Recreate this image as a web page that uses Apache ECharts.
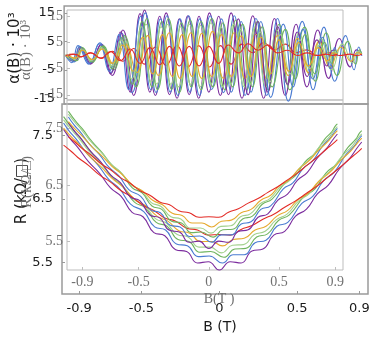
<!DOCTYPE html>
<html>
<head>
<meta charset="utf-8">
<script src="https://cdn.jsdelivr.net/npm/echarts@6/dist/echarts.min.js"></script>
<style>
  html, body { margin: 0; padding: 0; background: #fff; }
  #chart { width: 373px; height: 346px; }
</style>
</head>
<body>
<div id="chart"></div>
<script>
const bPurple = [-1.0, -0.95, -0.91, -0.84, -0.77, -0.70, -0.63, -0.56, -0.49, -0.42, -0.35, -0.28, -0.21, -0.14, -0.07,
  0.0, 0.07, 0.14, 0.21, 0.28, 0.35, 0.42, 0.49, 0.56, 0.63, 0.70, 0.77, 0.84, 0.88, 0.915];
const bBlue = [-1.0, -0.96, -0.92, -0.85, -0.78, -0.71, -0.64, -0.57, -0.485, -0.415, -0.345, -0.275, -0.205, -0.135, -0.065,
  0.02, 0.09, 0.16, 0.23, 0.30, 0.37, 0.44, 0.53, 0.60, 0.67, 0.74, 0.81, 0.865, 0.895, 0.915];
const bGreen = [-1.0, -0.94, -0.90, -0.83, -0.76, -0.69, -0.62, -0.545, -0.475, -0.405, -0.335, -0.265, -0.195, -0.125, -0.055,
  0.03, 0.10, 0.17, 0.24, 0.31, 0.38, 0.45, 0.545, 0.615, 0.685, 0.755, 0.825, 0.875, 0.90, 0.915];
const bLightGreen = [-1.0, -0.955, -0.905, -0.835, -0.765, -0.695, -0.625, -0.55, -0.48, -0.41, -0.34, -0.27, -0.20, -0.13, -0.06,
  0.015, 0.085, 0.155, 0.225, 0.295, 0.365, 0.435, 0.51, 0.58, 0.65, 0.72, 0.79, 0.855, 0.89, 0.915];
const bYellow = [-1.0, -0.95, -0.90, -0.83, -0.76, -0.69, -0.615, -0.54, -0.47, -0.40, -0.33, -0.26, -0.19, -0.12, -0.05,
  0.02, 0.09, 0.16, 0.23, 0.30, 0.37, 0.44, 0.50, 0.57, 0.64, 0.71, 0.78, 0.845, 0.885, 0.915];
const bRed = bPurple;

const xTicks = [-0.9, -0.5, 0, 0.5, 0.9];
const alphaTicks = [-15, -5, 5, 15];
const rTicks = [5.5, 6.5, 7.5];

const traceColors = ["#7b2c9e", "#4a7bd2", "#6fb45f", "#a3d18e", "#e6aa2e", "#e32b26"];

// top panel: alpha(B) * 10^3
const alphaPurple = [0, -2, 3, -3, 4, -7, 9, -14, 16, -14, 15, -15, 14, -15, 15, -14, 15, -15, 14, -15, 13, -14, 11, -11, 9, -8, 6, -4, 2, 0];
const alphaBlue = [0, -2.5, 3.5, -3, 4.5, -6, 8, -13, 15, -13, 14, -14, 14, -14, 14, -13, 14, -14, 13, -14, 13, -16, 12, -12, 10, -9, 7, -5, 3, 0];
const alphaGreen = [0, -2, 3, -2.5, 3.5, -5, 7, -11, 13, -12, 13, -13, 12.5, -12, 13, -12, 12.5, -12, 12, -12, 11, -12, 10, -9, 8, -7, 5, -3, 2, 0.5];
const alphaLightGreen = [0.5, -1.5, 2.5, -2, 3, -4, 6, -9, 11, -10, 11, -11, 11, -11, 11.5, -11, 11, -11, 10, -11, 9, -10, 8, -7, 6, -5, 4, -2.5, 1.5, 0.5];
const alphaYellow = [0, -1, 2, -1.5, 2.5, -3, 4, -6, 7, -7, 8, -8, 8, -8, 8.5, -8, 8, -8, 7.5, -8, 7, -7, 6, -6, 5, -4, 3, -2, 1, 0.5];
const alphaRed = [0, 0.5, -0.5, 1, -1, 1.5, -2, 2.5, -3, 3, -3.5, 3.5, -4, 3.5, -4, 3.5, -3, 4, 1, 4.5, 2, 4, 1, 2, 0, 1, 0, 0.5, 0, 0.5];

// bottom panel: R (kOhm/sq)
const rPurple = [7.60, 7.43, 7.32, 7.09, 6.91, 6.68, 6.54, 6.29, 6.22, 5.97, 5.92, 5.70, 5.67, 5.49, 5.51, 5.38, 5.51, 5.49, 5.68, 5.71, 5.93, 5.99, 6.23, 6.34, 6.58, 6.72, 6.97, 7.15, 7.29, 7.40];
const rBlue = [7.70, 7.56, 7.45, 7.22, 7.04, 6.81, 6.66, 6.42, 6.30, 6.06, 6.01, 5.79, 5.76, 5.59, 5.60, 5.49, 5.62, 5.62, 5.81, 5.85, 6.07, 6.13, 6.43, 6.54, 6.79, 6.93, 7.19, 7.33, 7.44, 7.50];
const rGreen = [7.80, 7.60, 7.49, 7.26, 7.07, 6.85, 6.70, 6.45, 6.36, 6.13, 6.07, 5.86, 5.83, 5.66, 5.67, 5.58, 5.71, 5.72, 5.90, 5.95, 6.16, 6.25, 6.54, 6.66, 6.91, 7.06, 7.31, 7.44, 7.54, 7.58];
const rLightGreen = [7.75, 7.61, 7.47, 7.25, 7.07, 6.87, 6.72, 6.50, 6.40, 6.19, 6.12, 5.94, 5.90, 5.74, 5.74, 5.65, 5.77, 5.78, 5.94, 5.99, 6.17, 6.26, 6.47, 6.59, 6.81, 6.96, 7.18, 7.34, 7.46, 7.53];
const rYellow = [7.62, 7.48, 7.36, 7.17, 7.01, 6.83, 6.68, 6.49, 6.39, 6.23, 6.15, 6.00, 5.96, 5.83, 5.83, 5.76, 5.86, 5.88, 6.01, 6.07, 6.23, 6.32, 6.48, 6.59, 6.78, 6.92, 7.11, 7.26, 7.38, 7.46];
const rRed = [7.35, 7.25, 7.16, 7.03, 6.88, 6.77, 6.63, 6.53, 6.40, 6.32, 6.20, 6.15, 6.04, 6.01, 5.93, 5.94, 5.93, 6.02, 6.08, 6.18, 6.26, 6.37, 6.47, 6.59, 6.71, 6.85, 6.99, 7.14, 7.22, 7.30];

const fieldTraces = [bPurple, bBlue, bGreen, bLightGreen, bYellow, bRed];
const alphaTraces = [alphaPurple, alphaBlue, alphaGreen, alphaLightGreen, alphaYellow, alphaRed];
const rTraces = [rPurple, rBlue, rGreen, rLightGreen, rYellow, rRed];

const chart = echarts.init(document.getElementById("chart"));

// the picture is two copies of the same figure on top of each other:
// "a" is the larger one with sans labels, "b" the smaller one with serif labels
const looks = {
  a: { font: "DejaVu Sans", size: 13, nameSize: 15, color: "#1a1a1a", border: "#9a9a9a", borderWidth: 1.5 },
  b: { font: "Liberation Serif", size: 14, nameSize: 15, color: "#707070", border: "#bdbdbd", borderWidth: 1 }
};

const panels = [
  { look: "a", kind: "alpha", grid: { left: 62, top: 6, width: 306, height: 98 }, yName: "α(B) · 10³", yGap: 30, yPad: [0, 0, 0, 14] },
  // its y name is drawn as a graphic below, so it can sit a bit above the middle
  { look: "a", kind: "r", grid: { left: 62, top: 104, width: 306, height: 190 }, yName: "", yGap: 30, yPad: 0, xName: "B (T)", xGap: 26, xPad: [0, 0, 0, 10] },
  { look: "b", kind: "alpha", grid: { left: 67, top: 10, width: 276, height: 90 }, yName: "α(B) · 10³", yGap: 27, yPad: [0, 0, 0, 10] },
  { look: "b", kind: "r", grid: { left: 67, top: 100, width: 276, height: 170 }, yName: "R(kΩ/□)", yGap: 27, yPad: [0, 0, 0, 6], xName: "B(T )", xGap: 22, xPad: [0, 0, 0, 28] }
];

const grid = [];
const xAxis = [];
const yAxis = [];
const series = [];

panels.forEach((p, idx) => {
  const lk = looks[p.look];
  const isR = p.kind === "r";
  grid.push(Object.assign({ show: true, borderColor: lk.border, borderWidth: lk.borderWidth, backgroundColor: "transparent" }, p.grid));

  xAxis.push({
    type: "value",
    gridIndex: idx,
    min: -1.01,
    max: 0.955,
    axisLine: { show: false, onZero: false },
    splitLine: { show: false },
    axisTick: { show: isR, inside: true, length: 3, customValues: xTicks, lineStyle: { color: lk.border } },
    axisLabel: {
      show: isR,
      customValues: xTicks,
      margin: p.look === "a" ? 8 : 5,
      fontFamily: lk.font,
      fontSize: lk.size,
      color: lk.color
    },
    name: p.xName || "",
    nameLocation: "middle",
    nameGap: p.xGap || 0,
    nameTextStyle: { fontFamily: lk.font, fontSize: lk.nameSize - 1, color: lk.color, padding: p.xPad || 0 }
  });

  yAxis.push({
    type: "value",
    gridIndex: idx,
    min: isR ? 5 : -17,
    max: isR ? 8 : 17.4,
    axisLine: { show: false, onZero: false },
    splitLine: { show: false },
    axisTick: { show: true, inside: true, length: 3, customValues: isR ? rTicks : alphaTicks, lineStyle: { color: lk.border } },
    axisLabel: {
      customValues: isR ? rTicks : alphaTicks,
      margin: p.look === "a" ? 9 : 4,
      fontFamily: lk.font,
      fontSize: lk.size,
      color: lk.color
    },
    name: p.yName,
    nameLocation: "middle",
    nameGap: p.yGap,
    nameRotate: 90,
    nameTextStyle: { fontFamily: lk.font, fontSize: lk.nameSize, color: lk.color, padding: p.yPad }
  });

  const traces = isR ? rTraces : alphaTraces;
  traces.forEach((vals, i) => {
    const field = fieldTraces[i];
    series.push({
      type: "line",
      xAxisIndex: idx,
      yAxisIndex: idx,
      data: field.map((b, k) => [b, vals[k]]),
      smooth: 0.5,
      showSymbol: false,
      symbol: "none",
      silent: true,
      clip: true,
      lineStyle: { width: 1.1, color: traceColors[i] },
      itemStyle: { color: traceColors[i] }
    });
  });
});

chart.setOption({
  animation: false,
  backgroundColor: "#fff",
  grid: grid,
  xAxis: xAxis,
  yAxis: yAxis,
  series: series,
  graphic: [
    {
      type: "text",
      x: 22,
      y: 191,
      rotation: Math.PI / 2,
      silent: true,
      style: {
        text: "R (kΩ/□)",
        fontFamily: looks.a.font,
        fontSize: looks.a.nameSize,
        fill: looks.a.color,
        align: "center",
        verticalAlign: "middle"
      }
    }
  ]
});
</script>
</body>
</html>
